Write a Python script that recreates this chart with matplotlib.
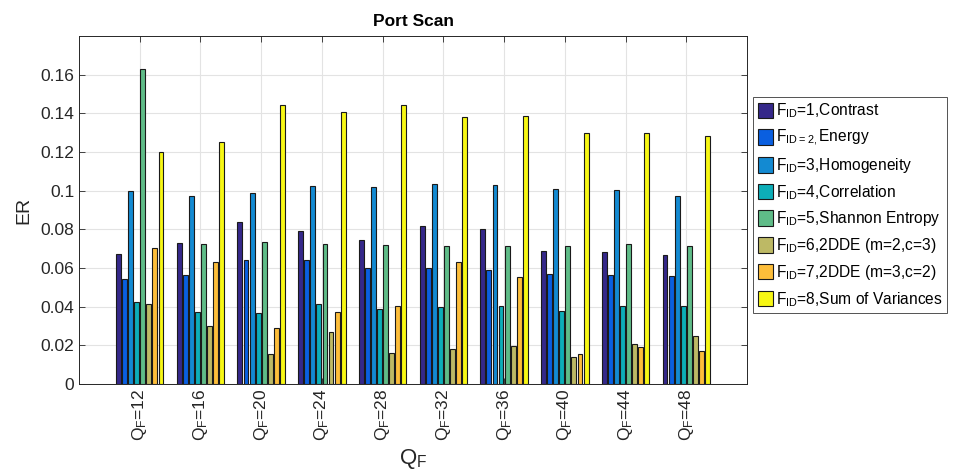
import matplotlib
matplotlib.use("Agg")
import matplotlib.pyplot as plt
import numpy as np

plt.rcParams['font.family'] = ['Liberation Sans', 'DejaVu Sans']
plt.rcParams['mathtext.default'] = 'regular'

categories = ['12', '16', '20', '24', '28', '32', '36', '40', '44', '48']
series_labels = [
    r'F$_{ID}$=1,Contrast',
    r'F$_{ID=2,}$Energy',
    r'F$_{ID}$=3,Homogeneity',
    r'F$_{ID}$=4,Correlation',
    r'F$_{ID}$=5,Shannon Entropy',
    r'F$_{ID}$=6,2DDE (m=2,c=3)',
    r'F$_{ID}$=7,2DDE (m=3,c=2)',
    r'F$_{ID}$=8,Sum of Variances',
]
contrast     = [0.0672, 0.0729, 0.0837, 0.0792, 0.0746, 0.0818, 0.0803, 0.0690, 0.0685, 0.0665]
energy       = [0.0545, 0.0566, 0.0642, 0.0639, 0.0601, 0.0599, 0.0589, 0.0571, 0.0564, 0.0559]
homogeneity  = [0.0998, 0.0974, 0.0987, 0.1022, 0.1017, 0.1034, 0.1029, 0.1008, 0.1001, 0.0970]
correlation  = [0.0423, 0.0371, 0.0368, 0.0416, 0.0388, 0.0399, 0.0402, 0.0378, 0.0402, 0.0406]
entropy      = [0.1630, 0.0723, 0.0734, 0.0723, 0.0720, 0.0715, 0.0713, 0.0713, 0.0725, 0.0716]
dde_m2c3     = [0.0413, 0.0302, 0.0154, 0.0268, 0.0159, 0.0180, 0.0197, 0.0140, 0.0205, 0.0247]
dde_m3c2     = [0.0701, 0.0630, 0.0288, 0.0371, 0.0406, 0.0632, 0.0552, 0.0157, 0.0190, 0.0169]
sum_var      = [0.1200, 0.1250, 0.1445, 0.1407, 0.1441, 0.1383, 0.1384, 0.1300, 0.1300, 0.1284]
series = [contrast, energy, homogeneity, correlation, entropy, dde_m2c3, dde_m3c2, sum_var]
colors = ['#35288A', '#0A5FE0', '#138AD2', '#0DAEB8', '#5FBC88', '#BDB965', '#FDBE3A', '#F7F714']

fig = plt.figure(figsize=(9.55, 4.75), dpi=100)
ax = fig.add_axes([79/955, 1-384/475, (747-79)/955, (384-36)/475])

x = np.arange(1, len(categories)+1)
n = len(series)
slot = 0.8 / n
bw = slot * 0.8
handles = []
for i, (vals, c, lab) in enumerate(zip(series, colors, series_labels)):
    off = (i - (n-1)/2) * slot
    h = ax.bar(x + off, vals, width=bw, color=c, edgecolor='#1a1a1a', linewidth=0.8,
               label=lab, zorder=3)
    handles.append(h)

ax.set_xlim(0, 11)
ax.set_ylim(0, 0.18)
ax.set_yticks([0, 0.02, 0.04, 0.06, 0.08, 0.1, 0.12, 0.14, 0.16])
ax.set_yticklabels(['0', '0.02', '0.04', '0.06', '0.08', '0.1', '0.12', '0.14', '0.16'])
ax.set_xticks(x)
ax.set_xticklabels([r'Q$_F$=' + c for c in categories], rotation=90)
ax.tick_params(axis='both', direction='in', labelsize=12.5, colors='#262626',
               top=True, right=True, length=4, width=0.6)
ax.grid(True, color='#e3e3e3', linewidth=0.8, zorder=0)
ax.set_axisbelow(True)
for s in ax.spines.values():
    s.set_color('#262626')
    s.set_linewidth(0.7)

ax.set_title('Port Scan', fontsize=12.5, fontweight='bold', pad=7)
ax.set_ylabel('ER', fontsize=14, color='#262626', labelpad=6)
ax.set_xlabel(r'Q$_F$', fontsize=16, color='#262626', labelpad=4)

leg = fig.legend(handles=handles, loc='upper left', bbox_to_anchor=(753/955, 1-97/475),
                 fontsize=11.2, frameon=True, fancybox=False, edgecolor='#262626',
                 handlelength=1.0, handleheight=1.15, handletextpad=0.15,
                 labelspacing=0.5, borderpad=0.3, borderaxespad=0)
leg.get_frame().set_linewidth(0.7)

fig.savefig('out.png', dpi=100)
